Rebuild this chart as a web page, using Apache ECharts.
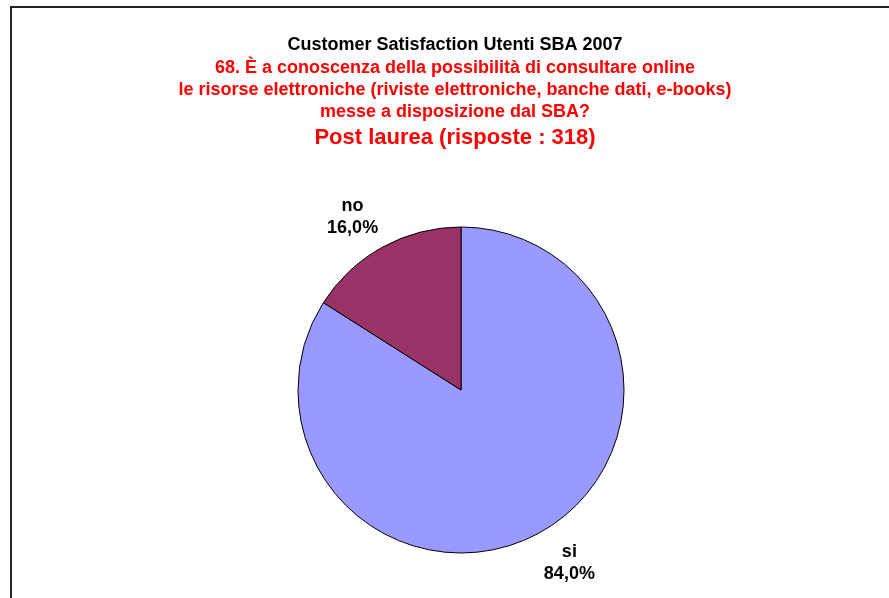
<!DOCTYPE html>
<html>
<head>
<meta charset="utf-8">
<script src="https://cdn.jsdelivr.net/npm/echarts@6/dist/echarts.min.js"></script>
<style>
  html, body { margin: 0; padding: 0; background: #fff; }
  #chart { width: 889px; height: 598px; }
</style>
</head>
<body>
<div id="chart"></div>
<script>
// Answers to question 68 (post-graduate respondents)
const categories = ['si', 'no'];
const shares = [84.0, 16.0];
const sliceColors = ['#9999FF', '#993366'];

const titleMain = 'Customer Satisfaction Utenti SBA 2007';
const titleQuestion = '68. È a conoscenza della possibilità di consultare online\nle risorse elettroniche (riviste elettroniche, banche dati, e-books)\nmesse a disposizione dal SBA?';
const titleGroup = 'Post laurea (risposte : 318)';

const FONT = '"Liberation Sans", Arial, sans-serif';
const CX = 461, CY = 390, R = 163, ANCHOR_R = 172;
const TITLE_X = 455;

const total = shares.reduce((a, b) => a + b, 0);
// mid-angle of each slice, clockwise from 12 o'clock
const midAngles = [];
let acc = 0;
shares.forEach(v => {
  midAngles.push((acc + v / 2) / total * 2 * Math.PI);
  acc += v;
});

const chart = echarts.init(document.getElementById('chart'), null, { renderer: 'canvas' });
chart.setOption({
  backgroundColor: '#fff',
  animation: false,
  title: [
    {
      text: titleMain, left: TITLE_X, top: 34, textAlign: 'center', padding: 0,
      textStyle: { fontFamily: FONT, fontSize: 18, fontWeight: 'bold', color: '#000', lineHeight: 22 }
    },
    {
      text: titleQuestion, left: TITLE_X, top: 57, textAlign: 'center', padding: 0,
      textStyle: { fontFamily: FONT, fontSize: 18, fontWeight: 'bold', color: '#FF0000', lineHeight: 22 }
    },
    {
      text: titleGroup, left: TITLE_X, top: 125, textAlign: 'center', padding: 0,
      textStyle: { fontFamily: FONT, fontSize: 22, fontWeight: 'bold', color: '#FF0000', lineHeight: 26 }
    }
  ],
  graphic: [{
    type: 'rect',
    shape: { x: 11, y: 7, width: 1000, height: 700 },
    style: { fill: 'none', stroke: '#222', lineWidth: 2 },
    silent: true
  }],
  series: [{
    type: 'pie',
    center: [CX, CY],
    radius: [0, R],
    startAngle: 90,
    clockwise: true,
    avoidLabelOverlap: false,
    data: categories.map((c, i) => ({ name: c, value: shares[i], itemStyle: { color: sliceColors[i] } })),
    itemStyle: { borderColor: '#000', borderWidth: 1 },
    label: {
      show: true,
      position: 'outside',
      formatter: p => p.name + '\n' + p.value.toFixed(1).replace('.', ',') + '%',
      fontFamily: FONT, fontSize: 18, fontWeight: 'bold', color: '#000',
      lineHeight: 22, align: 'center'
    },
    labelLine: { show: false },
    // label box corner nearest the pie sits on the slice's mid-angle ray
    labelLayout: p => {
      const a = midAngles[p.dataIndex];
      const sx = Math.sin(a), cy = Math.cos(a);
      const w = p.labelRect.width, h = p.labelRect.height;
      const ax = CX + ANCHOR_R * sx;
      const ay = CY - ANCHOR_R * cy;
      return {
        x: sx < 0 ? ax - w / 2 : ax + w / 2,
        y: cy > 0 ? ay - h / 2 : ay + h / 2,
        align: 'center',
        verticalAlign: 'middle'
      };
    }
  }]
});
</script>
</body>
</html>
